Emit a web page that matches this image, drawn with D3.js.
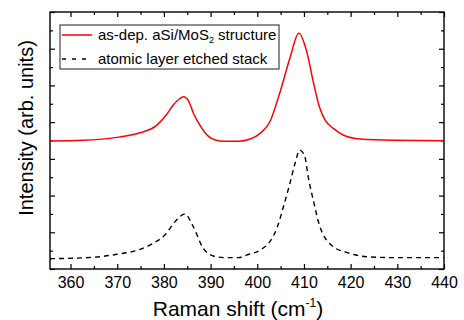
<!DOCTYPE html>
<html>
<head>
<meta charset="utf-8">
<script src="https://cdn.jsdelivr.net/npm/d3@7"></script>
<style>
  body { margin: 0; background: #fff; }
  text { font-family: Arial, "Liberation Sans", sans-serif; fill: #000; }
</style>
</head>
<body>
<div id="chart"></div>
<script>
// raman shift (cm-1) and intensity (arb. units)
const asDepShift = [355.6, 362.7, 369.9, 374.9, 378.5, 380.5, 382, 383.3, 384.2, 385.3, 386.3, 387.7, 389.5, 391, 393, 396, 398.5, 400.6, 402.7, 404.9, 407, 408.9, 410.6, 412, 413.3, 414.5, 416.3, 418.4, 422, 429, 440];
const asDepValues = [6.97, 7.01, 7.17, 7.42, 7.84, 8.39, 8.93, 9.26, 9.38, 9.15, 8.5, 7.84, 7.24, 7.03, 6.96, 6.96, 7.08, 7.39, 8.02, 9.66, 11.49, 12.84, 11.84, 10.2, 8.84, 8.12, 7.66, 7.3, 7.08, 7.01, 6.99];

const etchedShift = [355.6, 364.9, 369.9, 374.9, 377.7, 380.2, 382.4, 384.5, 386.3, 388.4, 390.6, 393, 396, 397.7, 400.6, 402.7, 404.2, 405.6, 407, 408.1, 409.1, 410.2, 410.9, 412, 413.3, 416.3, 419.1, 423.4, 429.1, 440];
const etchedValues = [0.56, 0.64, 0.8, 1.07, 1.4, 1.85, 2.58, 3.0, 2.3, 1.14, 0.71, 0.62, 0.62, 0.76, 1.03, 1.49, 2.22, 3.39, 4.67, 5.76, 6.48, 6.12, 5.03, 3.76, 2.4, 1.21, 0.91, 0.67, 0.62, 0.62];

const xTicks = [360, 370, 380, 390, 400, 410, 420, 430, 440];
const seriesNames = ['as-dep. aSi/MoS', 'atomic layer etched stack'];

const width = 464, height = 320;
const plotLeft = 50, plotRight = 444, plotTop = 12, plotBottom = 269;

const svg = d3.select('#chart').append('svg')
  .attr('width', width)
  .attr('height', height);

const x = d3.scaleLinear().domain([355.6, 440]).range([plotLeft, plotRight]);
const y = d3.scaleLinear().domain([0, 14]).range([plotBottom, plotTop]);

const majorX = xTicks;
const minorX = d3.range(365, 440, 10);
const majorY = d3.range(0, 15, 2);
const minorY = d3.range(1, 14, 2);

// inward ticks on all four sides
function ticks(g, axisFn, scale, vals, len, pos) {
  g.append('g')
    .attr('transform', pos)
    .call(axisFn(scale).tickValues(vals).tickSize(len).tickFormat(''))
    .call(s => s.select('.domain').remove())
    .call(s => s.selectAll('line').attr('stroke', '#000').attr('stroke-width', 1.2));
}
const axes = svg.append('g');
ticks(axes, d3.axisTop, x, majorX, 5, `translate(0,${plotBottom})`);
ticks(axes, d3.axisTop, x, minorX, 3, `translate(0,${plotBottom})`);
ticks(axes, d3.axisBottom, x, majorX, 5, `translate(0,${plotTop})`);
ticks(axes, d3.axisBottom, x, minorX, 3, `translate(0,${plotTop})`);
ticks(axes, d3.axisRight, y, majorY, 5, `translate(${plotLeft},0)`);
ticks(axes, d3.axisRight, y, minorY, 3, `translate(${plotLeft},0)`);
ticks(axes, d3.axisLeft, y, majorY, 5, `translate(${plotRight},0)`);
ticks(axes, d3.axisLeft, y, minorY, 3, `translate(${plotRight},0)`);

axes.append('g')
  .attr('transform', `translate(0,${plotBottom})`)
  .call(d3.axisBottom(x).tickValues(xTicks).tickSize(0).tickPadding(8))
  .call(s => s.select('.domain').remove())
  .call(s => s.selectAll('text').attr('font-size', 16).attr('fill', '#000')
    .style('font-family', 'Arial, "Liberation Sans", sans-serif'));

// frame
svg.append('rect')
  .attr('x', plotLeft).attr('y', plotTop)
  .attr('width', plotRight - plotLeft).attr('height', plotBottom - plotTop)
  .attr('fill', 'none').attr('stroke', '#000').attr('stroke-width', 1.4);

const line = d3.line()
  .x(d => x(d[0]))
  .y(d => y(d[1]))
  .curve(d3.curveMonotoneX);

svg.append('path')
  .datum(d3.zip(asDepShift, asDepValues))
  .attr('d', line)
  .attr('fill', 'none')
  .attr('stroke', '#ff0000')
  .attr('stroke-width', 1.5);

svg.append('path')
  .datum(d3.zip(etchedShift, etchedValues))
  .attr('d', line)
  .attr('fill', 'none')
  .attr('stroke', '#000')
  .attr('stroke-width', 1.4)
  .attr('stroke-dasharray', '5,4');

// legend
const legend = svg.append('g');
legend.append('rect')
  .attr('x', 60).attr('y', 25).attr('width', 219).attr('height', 44)
  .attr('fill', '#fff').attr('stroke', '#444').attr('stroke-width', 1.2);
legend.append('line')
  .attr('x1', 62).attr('x2', 92).attr('y1', 35).attr('y2', 35)
  .attr('stroke', '#ff0000').attr('stroke-width', 1.5);
legend.append('line')
  .attr('x1', 62).attr('x2', 92).attr('y1', 59).attr('y2', 59)
  .attr('stroke', '#000').attr('stroke-width', 1.4).attr('stroke-dasharray', '4,6');
const t1 = legend.append('text').attr('x', 98).attr('y', 40).attr('font-size', 15);
t1.append('tspan').text(seriesNames[0]);
t1.append('tspan').attr('font-size', 9).attr('dy', 3).text('2');
t1.append('tspan').attr('dy', -3).text(' structure');
legend.append('text').attr('x', 98).attr('y', 64).attr('font-size', 15).text(seriesNames[1]);

// axis titles
const xt = svg.append('text')
  .attr('x', 238).attr('y', 316)
  .attr('text-anchor', 'middle')
  .attr('font-size', 21);
xt.append('tspan').text('Raman shift (cm');
xt.append('tspan').attr('font-size', 12).attr('dy', -9).text('-1');
xt.append('tspan').attr('dy', 9).text(')');

svg.append('text')
  .attr('transform', 'translate(33,128) rotate(-90)')
  .attr('text-anchor', 'middle')
  .attr('font-size', 20)
  .text('Intensity (arb. units)');
</script>
</body>
</html>
